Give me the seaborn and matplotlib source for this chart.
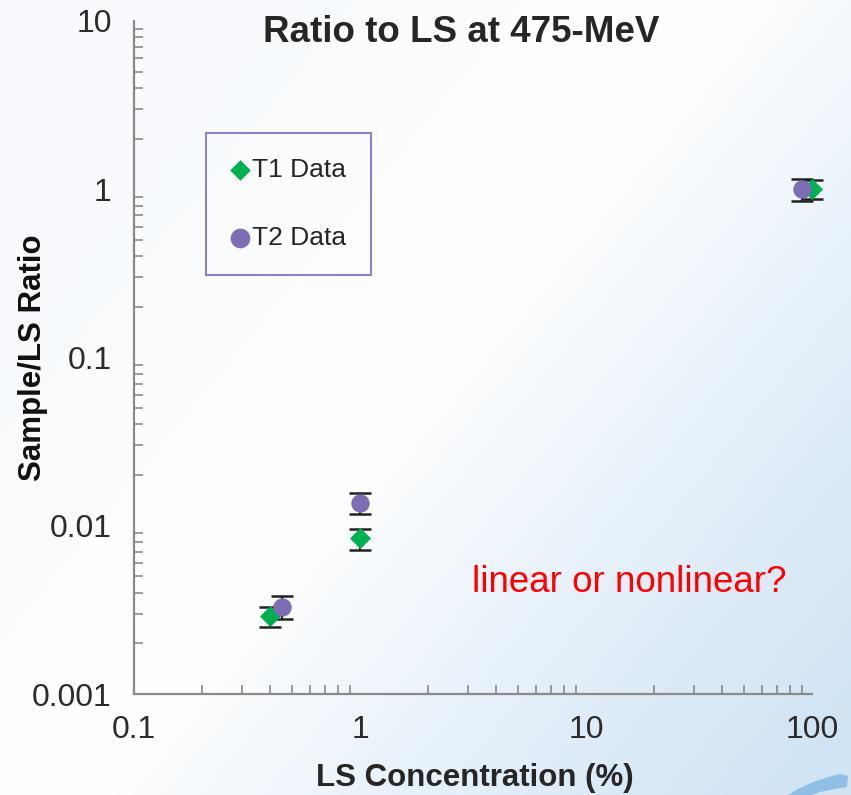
import numpy as np
import pandas as pd
import matplotlib
matplotlib.use('Agg')
import matplotlib.pyplot as plt
import matplotlib.patches as mpatches
import seaborn as sns

# values
t1_conc = [0.4, 1.0, 100.0]
t1_ratio = [0.0029, 0.0084, 1.0]
t1_err = [0.0004, 0.0012, 0.13]

t2_conc = [0.45, 1.0, 90.0]
t2_ratio = [0.0033, 0.0137, 1.0]
t2_err = [0.0005, 0.0020, 0.15]

x_ticks = [0.1, 1, 10, 100]
x_labels = ['0.1', '1', '10', '100']
y_ticks = [0.001, 0.01, 0.1, 1, 10]
y_labels = ['0.001', '0.01', '0.1', '1', '10']

green = '#00b050'
purple = '#7c6db4'
grey = '#8a8a8a'

sns.set_theme(style='white')
plt.rcParams['font.family'] = ['Liberation Sans', 'DejaVu Sans']

df = pd.DataFrame({
    'conc': t1_conc + t2_conc,
    'ratio': t1_ratio + t2_ratio,
    'series': ['T1 Data'] * 3 + ['T2 Data'] * 3,
})

fig = plt.figure(figsize=(8.51, 7.95), dpi=100)

# slide background: white diagonal band fading to light blue
H, W = 795, 851
yy, xx = np.mgrid[0:H, 0:W]
x1, y1, x2, y2 = 100, 795, 750, 0
nx, ny = (y2 - y1), -(x2 - x1)
norm = np.hypot(nx, ny)
d = -((xx - x1) * nx + (yy - y1) * ny) / norm
t = np.clip(d / 520, 0, 1) ** 0.85
t_neg = 0.15 * np.clip(-d / 350, 0, 1)
t = np.maximum(t, t_neg)
c0 = np.array([1.0, 1.0, 1.0])
c1 = np.array([0.82, 0.895, 0.96])
img = c0[None, None, :] * (1 - t[..., None]) + c1[None, None, :] * t[..., None]
bg = fig.add_axes([0, 0, 1, 1], zorder=-5)
bg.imshow(img, aspect='auto', extent=[0, W, H, 0])
bg.set_xlim(0, W)
bg.set_ylim(H, 0)
bg.axis('off')
# blue swoosh bottom right
swoosh = [(784, 797), (798, 789), (813, 782), (828, 777), (840, 774), (848, 776),
          (847, 787), (835, 789), (820, 792), (806, 797)]
bg.add_patch(mpatches.Polygon(swoosh, closed=True, color='#8fbfe4', lw=0))

ax = fig.add_axes([134 / W, 1 - 694 / H, (812 - 134) / W, (694 - 21) / H])
ax.patch.set_alpha(0)

for xs, ys, es in [(t1_conc, t1_ratio, t1_err), (t2_conc, t2_ratio, t2_err)]:
    eb = ax.errorbar(xs, ys, yerr=es, fmt='none', ecolor='#222222',
                     elinewidth=1.5, capsize=8, capthick=1.8, zorder=2)
    for art in eb.get_children():
        art.set_clip_on(False)

sns.scatterplot(data=df[df.series == 'T1 Data'], x='conc', y='ratio',
                color=green, marker='D', s=115, linewidth=0, ax=ax,
                label='T1 Data', zorder=3, clip_on=False)
sns.scatterplot(data=df[df.series == 'T2 Data'], x='conc', y='ratio',
                color=purple, marker='o', s=175, linewidth=0, ax=ax,
                label='T2 Data', zorder=4, clip_on=False)

ax.set_xscale('log')
ax.set_yscale('log')
ax.set_xlim(0.1, 100)
ax.set_ylim(0.001, 10)
ax.set_xticks(x_ticks)
ax.set_xticklabels(x_labels)
ax.set_yticks(y_ticks)
ax.set_yticklabels(y_labels)

for s in ['top', 'right']:
    ax.spines[s].set_visible(False)
for s in ['left', 'bottom']:
    ax.spines[s].set_color(grey)
    ax.spines[s].set_linewidth(1.6)

ax.tick_params(which='major', direction='inout', length=14, width=1.6,
               color=grey, labelsize=23, labelcolor='#2b2b2b')
ax.tick_params(axis='x', which='major', pad=8)
ax.tick_params(axis='y', which='major', pad=9)
ax.tick_params(which='minor', direction='in', length=6.5, width=1.2, color=grey)
ax.tick_params(axis='x', which='minor', bottom=True)
ax.tick_params(axis='y', which='minor', left=True)

ax.set_xlabel('')
ax.set_ylabel('')
fig.text(475 / W, 1 - 778 / H, 'LS Concentration (%)', ha='center', va='center',
         fontsize=22.5, fontweight='bold', color='#262626')
fig.text(33 / W, 1 - 358 / H, 'Sample/LS Ratio', ha='center', va='center',
         rotation=90, fontsize=22.5, fontweight='bold', color='#111111')
fig.text(461 / W, 1 - 33 / H, 'Ratio to LS at 475-MeV', ha='center', va='center',
         fontsize=26.5, fontweight='bold', color='#262626')
ax.text(0.73, (694 - 583) / 673, 'linear or nonlinear?',
        transform=ax.transAxes, ha='center', va='center', fontsize=26.5, color='#ff0000')

leg = ax.legend(loc='upper left', bbox_to_anchor=((206 - 134) / 678, (694 - 133) / 673),
                fontsize=19, frameon=True, fancybox=False, borderpad=0.95,
                labelspacing=1.65, handletextpad=0.15, handlelength=0.65,
                borderaxespad=0)
leg.get_frame().set_edgecolor('#7663b5')
leg.get_frame().set_linewidth(1.5)
leg.get_frame().set_facecolor('none')
for h, sz in zip(leg.legend_handles, [110, 200]):
    h.set_sizes([sz])
for txt in leg.get_texts():
    txt.set_color('#262626')

fig.savefig('out.png', dpi=100)
